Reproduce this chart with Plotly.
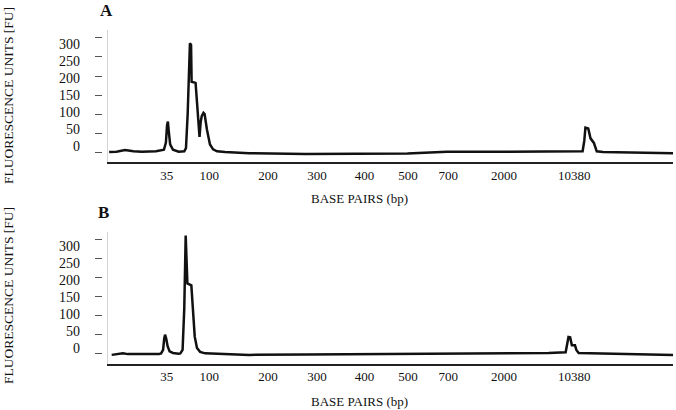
import plotly.graph_objects as go

W, H = 676, 410
SERIF = "Liberation Serif, Times New Roman, serif"

# x positions are relative migration (0-100 across the trace window)
LADDER_POS = [10.4, 17.9, 28.3, 37.0, 45.4, 53.1, 60.2, 70.1, 82.5]
LADDER_TEXT = ["35", "100", "200", "300", "400", "500", "700", "2000", "10380"]
FU_TICKS = [0, 50, 100, 150, 200, 250, 300]

A_X = [0.2, 1.5, 3.0, 4.5, 6.0, 8.5, 9.9, 10.25, 10.45, 10.6, 10.75, 11.0, 11.5, 12.5,
       13.5, 13.8, 14.1, 14.35, 14.5, 14.7, 14.8, 15.5, 15.75, 16.2, 16.4, 16.6, 16.9,
       17.1, 17.5, 18.05, 18.6, 19.3, 20.7, 25, 35, 45, 53, 57, 60, 70, 80,
       84.0, 84.3, 84.5, 85.0, 85.4, 86.0, 86.5, 87.6, 92, 100]
A_Y = [0, 1, 5, 2, 1, 2, 6, 25, 70, 80, 55, 20, 6, 1,
       2, 10, 100, 240, 286, 282, 185, 182, 120, 40, 79, 95, 103,
       100, 60, 20, 7, 2, 0, -3, -5, -5, -4, -1, 1, 1, 1,
       2, 30, 64, 62, 36, 24, 2, 0, -1, -3]

B_X = [0.65, 2.0, 2.65, 3.5, 6, 9.0, 9.4, 9.75, 9.95, 10.1, 10.3, 10.55, 10.9, 11.5,
       12.5, 12.8, 13.2, 13.5, 13.75, 13.95, 14.05, 14.75, 15.0, 15.35, 15.75, 16.3,
       17.2, 19, 25, 35, 50, 65, 78, 81.0, 81.3, 81.5, 81.8, 82.1, 82.65, 82.9, 83.3,
       86, 100]
B_Y = [-3, 0, 1, -1, -1, -1, 1, 10, 40, 50, 40, 20, 6, 2,
       0, 1, 10, 120, 311, 250, 185, 180, 120, 45, 15, 5,
       1, 0, -3, -2, -1, 1, 2, 4, 25, 44, 43, 22, 22, 10, 2,
       1, -3]


def px(x):
    return x / W


def py(y):
    return 1 - y / H


fig = go.Figure()
for xs, ys, xa, ya in [(A_X, A_Y, "x", "y"), (B_X, B_Y, "x2", "y2")]:
    fig.add_trace(go.Scatter(x=xs, y=ys, xaxis=xa, yaxis=ya, mode="lines",
                             line=dict(color="#111111", width=2.5), showlegend=False))

# invisible copies so the tick-mark and tick-label axes get drawn
for xs, ys, xa, ya in [(A_X, A_Y, "x", "y3"), (A_X, A_Y, "x", "y4"),
                       (B_X, B_Y, "x2", "y5"), (B_X, B_Y, "x2", "y6")]:
    fig.add_trace(go.Scatter(x=xs, y=ys, xaxis=xa, yaxis=ya, mode="lines",
                             line=dict(width=0, color="rgba(0,0,0,0)"),
                             hoverinfo="skip", showlegend=False))

x_common = dict(range=[0, 100], showline=True, linecolor="#222222", linewidth=1.5,
                ticks="", tickvals=LADDER_POS, ticktext=LADDER_TEXT,
                tickfont=dict(family=SERIF, size=13, color="#111"),
                showgrid=False, zeroline=False, domain=[px(108), px(673)])
data_y = dict(range=[-27, 321], showline=True, linecolor="#d4d4d4", linewidth=1,
              showticklabels=False, ticks="", showgrid=False, zeroline=False)
dash_y = dict(range=[-27, 321], anchor="free", position=px(102), tickvals=FU_TICKS,
              ticks="outside", ticklen=7, tickcolor="#555", tickwidth=1,
              showticklabels=False, showline=False, showgrid=False, zeroline=False)
label_y = dict(range=[-47, 341], anchor="free", position=px(80), tickvals=FU_TICKS,
               ticks="", tickfont=dict(family=SERIF, size=14, color="#111"),
               showline=False, showgrid=False, zeroline=False)

fig.update_layout(
    width=W, height=H,
    margin=dict(l=0, r=0, t=0, b=0),
    paper_bgcolor="white", plot_bgcolor="white",
    xaxis=dict(x_common, anchor="y"),
    xaxis2=dict(x_common, anchor="y2"),
    yaxis=dict(data_y, domain=[py(162.3), py(30)], anchor="x"),
    yaxis2=dict(data_y, domain=[py(364), py(231.7)], anchor="x2"),
    yaxis3=dict(dash_y, overlaying="y"),
    yaxis4=dict(label_y, overlaying="y"),
    yaxis5=dict(dash_y, overlaying="y2"),
    yaxis6=dict(label_y, overlaying="y2"),
)

notes = [
    ("A", 106, 10, 17, True, 0),
    ("B", 103, 212, 17, True, 0),
    ("FLUORESCENCE UNITS [FU]", 8, 96, 13.5, False, -90),
    ("FLUORESCENCE UNITS [FU]", 8, 296, 13.5, False, -90),
    ("BASE PAIRS (bp)", 359, 198, 13, False, 0),
    ("BASE PAIRS (bp)", 359, 401, 13, False, 0),
]
for text, x, y, size, bold, angle in notes:
    fig.add_annotation(text=f"<b>{text}</b>" if bold else text,
                       xref="paper", yref="paper", x=px(x), y=py(y),
                       xanchor="center", yanchor="middle", showarrow=False,
                       textangle=angle, font=dict(family=SERIF, size=size, color="#111"))

fig.write_html("out.html", config={"displayModeBar": False},
               post_script="document.body.style.margin = '0';")
